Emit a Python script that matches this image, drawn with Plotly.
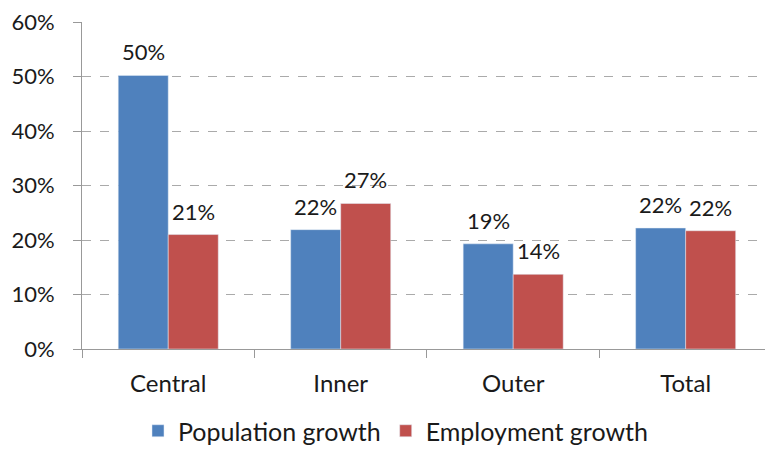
import plotly.graph_objects as go

categories = ["Central", "Inner", "Outer", "Total"]
population_growth = [0.502, 0.219, 0.193, 0.222]
employment_growth = [0.210, 0.267, 0.137, 0.217]
y_ticks = [0, 0.1, 0.2, 0.3, 0.4, 0.5, 0.6]

FONT = "Lato"
TXT = "#1a1a1a"
BARGAP = 0.42
half = (1 - BARGAP) / 4  # centre offset of each bar within a group

fig = go.Figure()
fig.add_trace(go.Bar(name="Population growth", x=categories, y=population_growth,
                     marker=dict(color="#4F81BD")))
fig.add_trace(go.Bar(name="Employment growth", x=categories, y=employment_growth,
                     marker=dict(color="#C0504D")))

annotations = []
for i, (p, e) in enumerate(zip(population_growth, employment_growth)):
    for off, v in ((-half, p), (half, e)):
        annotations.append(dict(
            x=i + off, y=v, xref="x", yref="y", text=f"{v:.0%}",
            showarrow=False, yanchor="bottom", yshift=8,
            font=dict(family=FONT, size=22, color=TXT),
        ))

fig.update_layout(
    width=765, height=454,
    margin=dict(l=82, r=0, t=22, b=90),
    paper_bgcolor="white", plot_bgcolor="white",
    font=dict(family=FONT, size=22, color=TXT),
    barmode="group", bargap=BARGAP, bargroupgap=0,
    showlegend=True,
    legend=dict(orientation="h", x=0.459, xanchor="center", y=-0.251, yanchor="middle",
                font=dict(size=25), traceorder="normal"),
    annotations=annotations,
)
fig.update_xaxes(
    type="category", range=[-0.5, 3.46], automargin=False,
    showline=True, linecolor="#999999", linewidth=1,
    ticks="outside", tickson="boundaries", ticklen=8, tickcolor="#999999",
    tickfont=dict(size=24), ticklabelstandoff=13,
    showgrid=False,
)
fig.update_yaxes(
    range=[0, 0.6], tickvals=y_ticks, tickformat=".0%", automargin=False,
    showline=True, linecolor="#999999", linewidth=1,
    ticks="outside", ticklen=8, tickcolor="#999999", ticklabelstandoff=14,
    showgrid=True, gridcolor="#aaaaaa", griddash="dash", gridwidth=1,
    zeroline=False,
)
page_css = (
    "var h=document.documentElement,b=document.body;"
    "h.style.margin='0';h.style.padding='0';h.style.overflow='hidden';h.style.height='454px';"
    "b.style.margin='0';b.style.padding='0';b.style.overflow='hidden';b.style.height='454px';"
)
fig.write_html("out.html", config={"displayModeBar": False}, post_script=page_css)
